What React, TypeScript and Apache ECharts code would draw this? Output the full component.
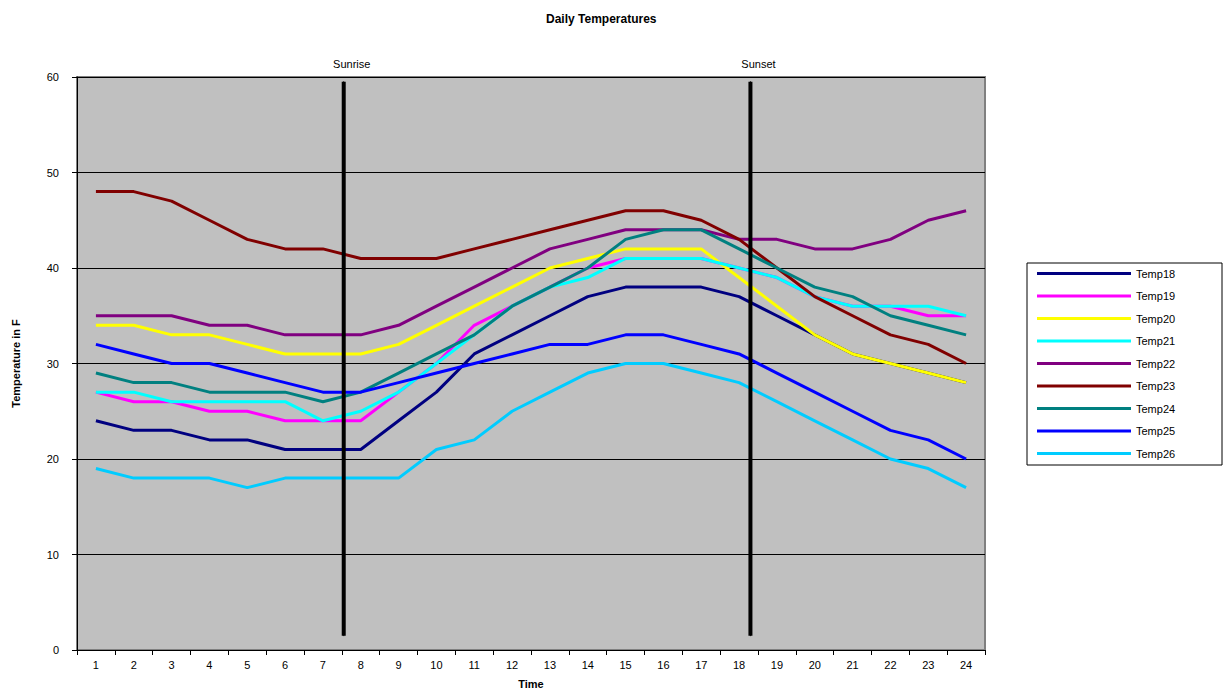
import React, { useEffect, useRef } from 'react';
import * as echarts from 'echarts';

const hours = ['1','2','3','4','5','6','7','8','9','10','11','12','13','14','15','16','17','18','19','20','21','22','23','24'];

const temp18 = [24,23,23,22,22,21,21,21,24,27,31,33,35,37,38,38,38,37,35,33,31,30,29,28];
const temp19 = [27,26,26,25,25,24,24,24,27,30,34,36,38,40,41,41,41,40,39,37,36,36,35,35];
const temp20 = [34,34,33,33,32,31,31,31,32,34,36,38,40,41,42,42,42,39,36,33,31,30,29,28];
const temp21 = [27,27,26,26,26,26,24,25,27,30,33,36,38,39,41,41,41,40,39,37,36,36,36,35];
const temp22 = [35,35,35,34,34,33,33,33,34,36,38,40,42,43,44,44,44,43,43,42,42,43,45,46];
const temp23 = [48,48,47,45,43,42,42,41,41,41,42,43,44,45,46,46,45,43,40,37,35,33,32,30];
const temp24 = [29,28,28,27,27,27,26,27,29,31,33,36,38,40,43,44,44,42,40,38,37,35,34,33];
const temp25 = [32,31,30,30,29,28,27,27,28,29,30,31,32,32,33,33,32,31,29,27,25,23,22,20];
const temp26 = [19,18,18,18,17,18,18,18,18,21,22,25,27,29,30,30,29,28,26,24,22,20,19,17];

const seriesNames = ['Temp18','Temp19','Temp20','Temp21','Temp22','Temp23','Temp24','Temp25','Temp26'];
const seriesData = [temp18, temp19, temp20, temp21, temp22, temp23, temp24, temp25, temp26];
const seriesColors = ['#000080','#FF00FF','#FFFF00','#00FFFF','#800080','#800000','#008080','#0000FF','#00CCFF'];

const yMin = 0;
const yMax = 60;
const yInterval = 10;

const sunriseHour = 7.55;
const sunsetHour = 18.3;
const markerLow = 1.5;
const markerHigh = 59.5;

const FONT = "'Liberation Sans', Arial, sans-serif";

export default function App() {
  const ref = useRef<HTMLDivElement>(null);

  useEffect(() => {
    if (!ref.current) return;
    const chart = echarts.init(ref.current, undefined, { renderer: 'svg' });

    const tempSeries = seriesNames.map((name, i) => ({
      name,
      type: 'line',
      xAxisIndex: 0,
      yAxisIndex: 0,
      data: seriesData[i],
      color: seriesColors[i],
      symbol: 'none',
      lineStyle: { width: 3, color: seriesColors[i] },
      z: 2,
    }));

    const markerSeries = (hour: number, text: string) => ({
      name: text,
      type: 'line',
      xAxisIndex: 1,
      yAxisIndex: 0,
      symbol: 'circle',
      symbolSize: 1,
      itemStyle: { color: '#000' },
      lineStyle: { width: 4, color: '#000' },
      z: 5,
      data: [
        [hour, markerLow],
        {
          value: [hour, markerHigh],
          label: {
            show: true,
            formatter: text,
            position: 'top',
            distance: 12,
            offset: [8, 0],
            color: '#000',
            fontFamily: FONT,
            fontSize: 11,
          },
        },
      ],
    });

    chart.setOption({
      animation: false,
      backgroundColor: '#fff',
      textStyle: { fontFamily: FONT },
      title: {
        text: 'Daily Temperatures',
        left: 541,
        top: 8,
        textStyle: { fontFamily: FONT, fontSize: 12, fontWeight: 'bold', color: '#000' },
      },
      legend: {
        data: seriesNames,
        orient: 'vertical',
        left: 1027,
        top: 263,
        icon: 'rect',
        itemWidth: 94,
        itemHeight: 3,
        itemGap: 9.5,
        padding: [4, 8, 5, 10],
        borderColor: '#000',
        borderWidth: 1,
        backgroundColor: '#fff',
        textStyle: { fontFamily: FONT, fontSize: 11, color: '#000', lineHeight: 13, width: 78 },
      },
      grid: {
        left: 77,
        right: 240,
        top: 77,
        bottom: 43,
        show: true,
        backgroundColor: '#C0C0C0',
        borderColor: '#808080',
        borderWidth: 2,
      },
      xAxis: [
        {
          type: 'category',
          data: hours,
          boundaryGap: true,
          name: 'Time',
          nameLocation: 'middle',
          nameGap: 28,
          nameTextStyle: { fontFamily: FONT, fontSize: 11, fontWeight: 'bold', color: '#000' },
          axisLine: { lineStyle: { color: '#000', width: 1 } },
          axisTick: { show: true, inside: false, length: 5, lineStyle: { color: '#000' } },
          axisLabel: { color: '#000', fontSize: 11, fontFamily: FONT, margin: 9, interval: 0 },
          splitLine: { show: false },
        },
        {
          type: 'value',
          min: 0.5,
          max: 24.5,
          show: false,
          splitLine: { show: false },
        },
      ],
      yAxis: {
        type: 'value',
        min: yMin,
        max: yMax,
        interval: yInterval,
        name: 'Temperature in F',
        nameLocation: 'middle',
        nameGap: 56,
        nameTextStyle: { fontFamily: FONT, fontSize: 11, fontWeight: 'bold', color: '#000' },
        axisLine: { show: true, lineStyle: { color: '#000', width: 1 } },
        axisTick: { show: true, inside: false, length: 5, lineStyle: { color: '#000' } },
        axisLabel: { color: '#000', fontSize: 11, fontFamily: FONT, margin: 18 },
        splitLine: { show: true, lineStyle: { color: '#000', width: 1 } },
      },
      series: [
        ...tempSeries,
        markerSeries(sunriseHour, 'Sunrise'),
        markerSeries(sunsetHour, 'Sunset'),
      ],
    });

    return () => chart.dispose();
  }, []);

  return (
    <div
      ref={ref}
      style={{ position: 'fixed', left: 0, top: 0, width: 1225, height: 694 }}
    />
  );
}
